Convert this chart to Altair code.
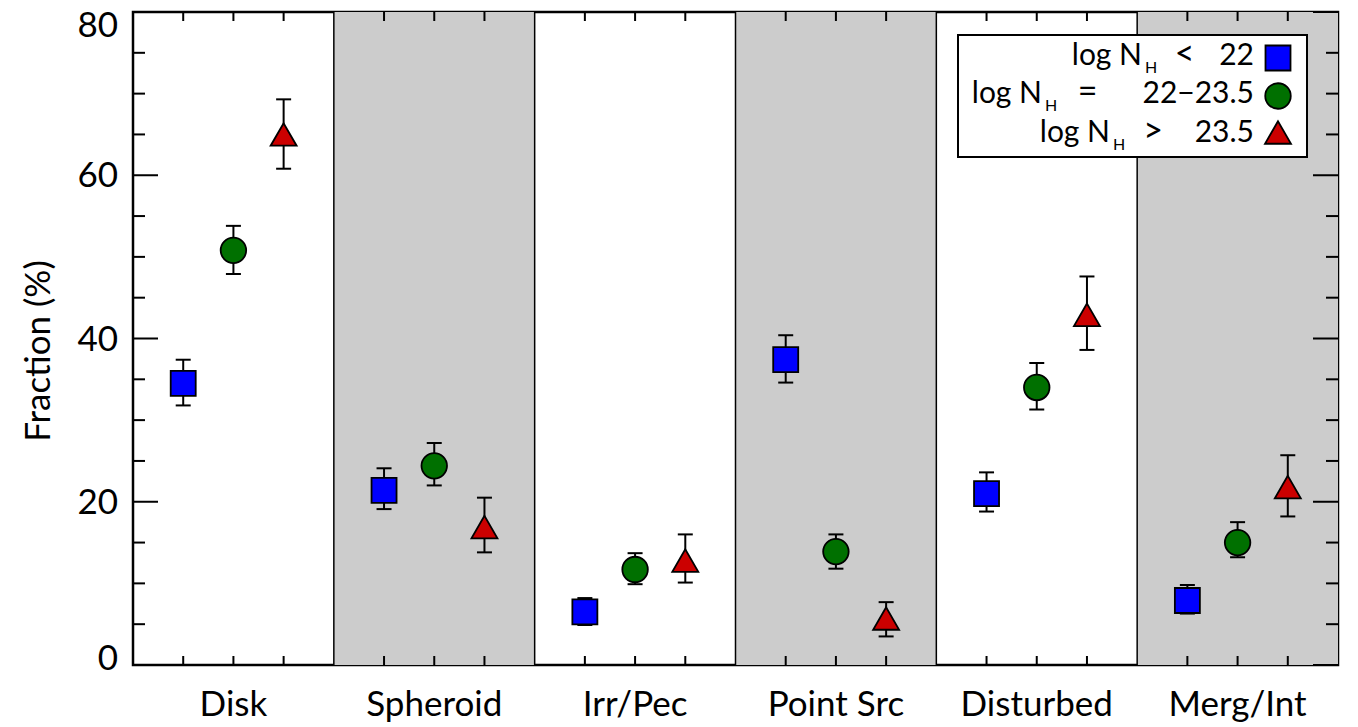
import altair as alt
import pandas as pd

# ---------------- data ----------------
categories = ["Disk", "Spheroid", "Irr/Pec", "Point Src", "Disturbed", "Merg/Int"]
series = ["lt22", "mid", "gt235"]
legend_ops = ["<", "=", ">"]
legend_vals = ["22", "22\u221223.5", "23.5"]
y_title = "Fraction (%)"

blue_val = [34.5, 21.4, 6.5, 37.4, 21.0, 7.9]
blue_lo = [31.8, 19.1, 4.9, 34.6, 18.8, 6.3]
blue_hi = [37.4, 24.1, 8.2, 40.4, 23.6, 9.8]

green_val = [50.8, 24.4, 11.7, 13.9, 34.0, 15.0]
green_lo = [47.9, 22.0, 9.9, 11.8, 31.3, 13.2]
green_hi = [53.8, 27.2, 13.7, 16.0, 37.0, 17.5]

red_val = [65.0, 16.9, 12.8, 5.7, 42.9, 21.8]
red_lo = [60.8, 13.8, 10.1, 3.5, 38.6, 18.2]
red_hi = [69.3, 20.5, 16.0, 7.7, 47.6, 25.7]

y_major = [0, 20, 40, 60, 80]
y_minor = [5, 10, 15, 25, 30, 35, 45, 50, 55, 65, 70, 75]

# ---------------- layout ----------------
W, H = 1205, 653
XMAX, YMAX = 24, 80
FONT = "Lato"
colors = ["#0000ff", "#007000", "#cc0000"]
shapes = ["square", "circle", "triangle-up"]
sizes = [625, 676, 800]

vals = [blue_val, green_val, red_val]
los = [blue_lo, green_lo, red_lo]
his = [blue_hi, green_hi, red_hi]

rows = []
for j, s in enumerate(series):
    for i, c in enumerate(categories):
        rows.append({"cat": c, "series": s, "x": 4 * i + j + 1,
                     "y": vals[j][i], "lo": los[j][i], "hi": his[j][i]})
pts = pd.DataFrame(rows)

bands = pd.DataFrame({"cat": categories,
                      "x0": [4 * i for i in range(len(categories))],
                      "x1": [4 * i + 4 for i in range(len(categories))],
                      "xc": [4 * i + 2 for i in range(len(categories))],
                      "shade": [i % 2 == 1 for i in range(len(categories))]})
shaded = bands[bands["shade"]]
edges = pd.DataFrame({"x": [4 * i for i in range(1, len(categories))]})
xticks = pd.DataFrame({"x": [k for k in range(1, XMAX) if k % 4 != 0]})
ymaj = pd.DataFrame({"y": y_major})
ymin = pd.DataFrame({"y": y_minor})

xs = alt.Scale(domain=[0, XMAX], nice=False, zero=False)
ys = alt.Scale(domain=[0, YMAX], nice=False, zero=False)


def X(f):
    return alt.X(f, scale=xs, axis=None)


def Y(f):
    return alt.Y(f, scale=ys, axis=None)


TOP = 12  # page y of the plot top


def dx(px):
    return (px - 133) / W * XMAX


def dy(py):
    return (TOP + H - py) / H * YMAX


band_layer = alt.Chart(shaded).mark_rect(color="#cccccc").encode(
    x=X("x0:Q"), x2="x1:Q", y=alt.value(0), y2=alt.value(H))

edge_layer = alt.Chart(edges).mark_rule(color="black", strokeWidth=1.5).encode(
    x=X("x:Q"), y=alt.value(0), y2=alt.value(H))

xt_bottom = alt.Chart(xticks).mark_rule(color="black", strokeWidth=2).encode(
    x=X("x:Q"), y=alt.value(H), y2=alt.value(H - 9))
xt_top = alt.Chart(xticks).mark_rule(color="black", strokeWidth=2).encode(
    x=X("x:Q"), y=alt.value(0), y2=alt.value(9))

yt_lmaj = alt.Chart(ymaj).mark_rule(color="black", strokeWidth=2).encode(
    y=Y("y:Q"), x=alt.value(0), x2=alt.value(25))
yt_lmin = alt.Chart(ymin).mark_rule(color="black", strokeWidth=2).encode(
    y=Y("y:Q"), x=alt.value(0), x2=alt.value(12))
yt_rmaj = alt.Chart(ymaj).mark_rule(color="black", strokeWidth=2).encode(
    y=Y("y:Q"), x=alt.value(W), x2=alt.value(W - 25))
yt_rmin = alt.Chart(ymin).mark_rule(color="black", strokeWidth=2).encode(
    y=Y("y:Q"), x=alt.value(W), x2=alt.value(W - 12))

# axis labels as text
cat_labels = alt.Chart(bands).mark_text(align="center", baseline="alphabetic", fontSize=35,
                                        font=FONT, color="black").encode(
    x=X("xc:Q"), y=alt.value(H + 51), text="cat:N")

ylab_df = pd.DataFrame({"y": y_major, "t": [str(v) for v in y_major]})
ylab_mid = alt.Chart(ylab_df[(ylab_df.y > 0) & (ylab_df.y < YMAX)]).mark_text(
    align="right", baseline="middle", fontSize=35, font=FONT, color="black", dy=1).encode(
    y=Y("y:Q"), x=alt.value(-15), text="t:N")
ylab_top = alt.Chart(ylab_df[ylab_df.y == YMAX]).mark_text(
    align="right", baseline="middle", fontSize=35, font=FONT, color="black", dy=14).encode(
    y=Y("y:Q"), x=alt.value(-15), text="t:N")
ylab_bot = alt.Chart(ylab_df[ylab_df.y == 0]).mark_text(
    align="right", baseline="middle", fontSize=35, font=FONT, color="black", dy=-6).encode(
    y=Y("y:Q"), x=alt.value(-15), text="t:N")

ytitle = alt.Chart(pd.DataFrame({"t": [y_title]})).mark_text(
    align="center", baseline="alphabetic", angle=270, fontSize=35, font=FONT, color="black").encode(
    x=alt.value(-83), y=alt.value(339), text="t:N")

stems = alt.Chart(pts).mark_rule(color="black", strokeWidth=2).encode(
    x=X("x:Q"), y=Y("lo:Q"), y2="hi:Q")
cap_lo = alt.Chart(pts).mark_rule(color="black", strokeWidth=2, xOffset=-7.5, x2Offset=7.5).encode(
    x=X("x:Q"), x2="x:Q", y=Y("lo:Q"))
cap_hi = alt.Chart(pts).mark_rule(color="black", strokeWidth=2, xOffset=-7.5, x2Offset=7.5).encode(
    x=X("x:Q"), x2="x:Q", y=Y("hi:Q"))

fill_scale = alt.Scale(domain=series, range=colors)
shape_scale = alt.Scale(domain=series, range=shapes)
size_scale = alt.Scale(domain=series, range=sizes)

markers = alt.Chart(pts).mark_point(filled=True, stroke="black", strokeWidth=1.8, opacity=1).encode(
    x=X("x:Q"), y=Y("y:Q"),
    fill=alt.Fill("series:N", scale=fill_scale, legend=None),
    shape=alt.Shape("series:N", scale=shape_scale, legend=None),
    size=alt.Size("series:N", scale=size_scale, legend=None),
)

# ---------------- custom legend ----------------
box = pd.DataFrame({"x0": [dx(958)], "x1": [dx(1307)], "y0": [dy(35)], "y1": [dy(157)]})
legend_box = alt.Chart(box).mark_rect(fill="white", stroke="black", strokeWidth=2).encode(
    x=X("x0:Q"), x2="x1:Q", y=Y("y0:Q"), y2="y1:Q")

row_base_py = [65, 103.3, 141.7]
row_mark_py = [58, 96, 132.5]
row_nend_px = [1142, 1042, 1110]
row_op_px = [1184.5, 1087.5, 1153]
leg = pd.DataFrame({
    "series": series,
    "op": legend_ops,
    "val": legend_vals,
    "main": ["log N"] * 3,
    "sub": ["H"] * 3,
    "mx": [dx(1278)] * 3,
    "my": [dy(p) for p in row_mark_py],
    "by": [dy(p) for p in row_base_py],
    "sy": [dy(p + 8) for p in row_base_py],
    "nx": [dx(p) for p in row_nend_px],
    "hx": [dx(p + 3) for p in row_nend_px],
    "ox": [dx(p) for p in row_op_px],
    "vx": [dx(1254)] * 3,
})

leg_markers = alt.Chart(leg).mark_point(filled=True, stroke="black", strokeWidth=1.8, opacity=1).encode(
    x=X("mx:Q"), y=Y("my:Q"),
    fill=alt.Fill("series:N", scale=fill_scale, legend=None),
    shape=alt.Shape("series:N", scale=shape_scale, legend=None),
    size=alt.Size("series:N", scale=size_scale, legend=None),
)

leg_main = alt.Chart(leg).mark_text(align="right", baseline="alphabetic", fontSize=30,
                                    font=FONT, color="black").encode(
    x=X("nx:Q"), y=Y("by:Q"), text="main:N")
leg_sub = alt.Chart(leg).mark_text(align="left", baseline="alphabetic", fontSize=16,
                                   font=FONT, color="black").encode(
    x=X("hx:Q"), y=Y("sy:Q"), text="sub:N")
leg_op = alt.Chart(leg).mark_text(align="center", baseline="alphabetic", fontSize=34,
                                  font=FONT, color="black").encode(
    x=X("ox:Q"), y=Y("by:Q"), text="op:N")
leg_val = alt.Chart(leg).mark_text(align="right", baseline="alphabetic", fontSize=30,
                                   font=FONT, color="black").encode(
    x=X("vx:Q"), y=Y("by:Q"), text="val:N")

chart = alt.layer(
    band_layer, edge_layer, xt_bottom, xt_top, yt_lmaj, yt_lmin, yt_rmaj, yt_rmin,
    cat_labels, ylab_mid, ylab_top, ylab_bot, ytitle,
    stems, cap_lo, cap_hi, markers,
    legend_box, leg_markers, leg_main, leg_sub, leg_op, leg_val,
).properties(
    width=W, height=H,
    autosize=alt.AutoSizeParams(type="none"),
    padding={"left": 125, "top": TOP - 8, "right": 12, "bottom": 58},
    background="white",
).configure_view(stroke="black", strokeWidth=2.5)

chart.save("out.html", embed_options={"renderer": "svg", "actions": False})
